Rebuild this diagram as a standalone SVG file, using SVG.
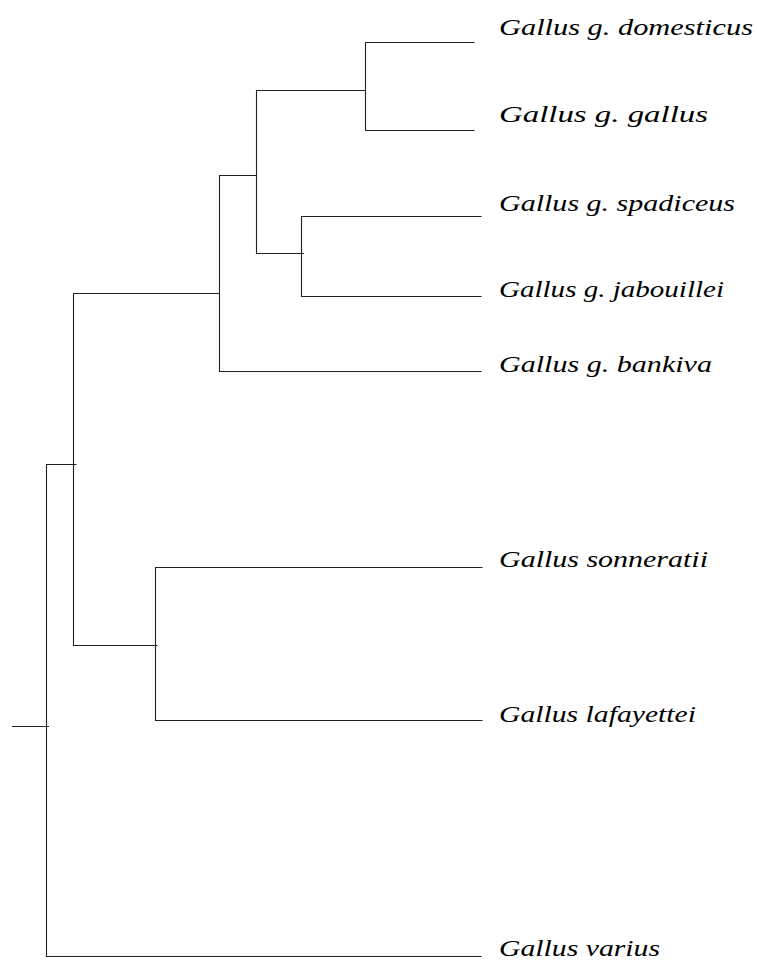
<svg xmlns="http://www.w3.org/2000/svg" width="757" height="967" viewBox="0 0 757 967">
<style>
.e{fill:none;stroke:#222;stroke-width:1.1;stroke-linecap:square}
.t{font-family:"Liberation Serif","Times New Roman",serif;font-style:italic;font-size:24px;fill:#000}
</style>
<rect width="757" height="967" fill="#fff"/>
<g id="connectors">
<path class="e" d="M365.5,42.5V130.5M365.5,42.5H474M365.5,130.5H474"/>
<path class="e" d="M301.5,216.5V296.5M301.5,216.5H481M301.5,296.5H481"/>
<path class="e" d="M256.5,90.5V253.5M256.5,90.5H365.5M256.5,253.5H303.5"/>
<path class="e" d="M219.5,175.5V371.5M219.5,175.5H256.5M219.5,371.5H481"/>
<path class="e" d="M155.5,567.5V720.5M155.5,567.5H482M155.5,720.5H482"/>
<path class="e" d="M73.5,293.5V645.5M73.5,293.5H219.5M73.5,645.5H157"/>
<path class="e" d="M46.5,464.5V956.5M46.5,464.5H76M46.5,956.5H481M12.5,726.5H48.5"/>
</g>
<g id="node-domesticus"><text class="t" x="499" y="35" textLength="254" lengthAdjust="spacingAndGlyphs">Gallus g. domesticus</text></g>
<g id="node-gallus"><text class="t" x="499" y="122" textLength="209" lengthAdjust="spacingAndGlyphs">Gallus g. gallus</text></g>
<g id="node-spadiceus"><text class="t" x="499" y="211" textLength="236" lengthAdjust="spacingAndGlyphs">Gallus g. spadiceus</text></g>
<g id="node-jabouillei"><text class="t" x="499" y="297" textLength="225" lengthAdjust="spacingAndGlyphs">Gallus g. jabouillei</text></g>
<g id="node-bankiva"><text class="t" x="499" y="372" textLength="213" lengthAdjust="spacingAndGlyphs">Gallus g. bankiva</text></g>
<g id="node-sonneratii"><text class="t" x="499" y="567" textLength="209" lengthAdjust="spacingAndGlyphs">Gallus sonneratii</text></g>
<g id="node-lafayettei"><text class="t" x="499" y="722" textLength="197" lengthAdjust="spacingAndGlyphs">Gallus lafayettei</text></g>
<g id="node-varius"><text class="t" x="499" y="956" textLength="161" lengthAdjust="spacingAndGlyphs">Gallus varius</text></g>
</svg>
